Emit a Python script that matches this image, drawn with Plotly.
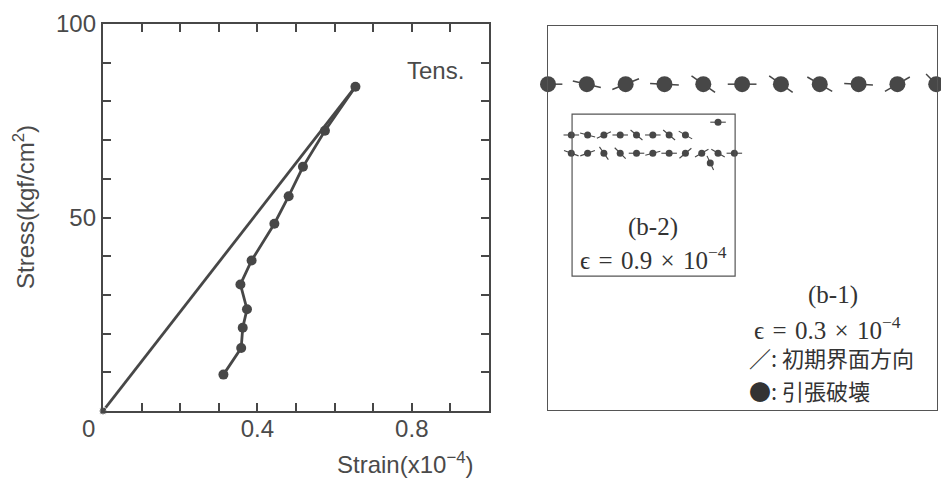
import numpy as np
import plotly.graph_objects as go

# ---------------- data: left panel (stress-strain, tension) ----------------
strain_curve = [0.312, 0.358, 0.362, 0.373, 0.356, 0.385, 0.444, 0.481, 0.518, 0.575, 0.654]
stress_curve = [9.4, 16.3, 21.5, 26.3, 32.7, 38.9, 48.4, 55.5, 63.1, 72.4, 83.8]
strain_line = [0.0, 0.654]
stress_line = [0.0, 83.8]
x_ticks = [0.4, 0.8]
x_ticklabels = ["0.4", "0.8"]
y_ticks = [50, 100]
y_ticklabels = ["50", "100"]

# ---------------- data: right panel (crack pattern) ----------------
# (b-1) large dots: position index and initial interface angle (deg)
b1_pos = [0, 1, 2, 3, 4, 5, 6, 7, 8, 9, 10]
b1_row = [8.4] * 11
b1_angle = [0, -13, 22, -3, -35, 0, -35, -30, -3, 30, -45]
# (b-2) small dots
b2_x = [0.6, 1.02, 1.44, 1.86, 2.28, 2.70, 3.12, 3.54,
        0.6, 1.02, 1.44, 1.86, 2.28, 2.70, 3.12, 3.54, 3.96, 4.38, 4.80,
        4.38, 4.18]
b2_y = [7.09] * 8 + [6.62] * 11 + [7.42, 6.37]
b2_angle = [0, -15, 25, 0, -40, 0, -40, -30,
            -20, 20, -55, -45, 0, 15, 0, 40, 30, -30, 0,
            0, -65]
b2_box = [0.62, 4.82, 3.45, 7.63]

INK = "#474747"
W, H = 941, 481


def fx(px):   # reference pixel x -> paper fraction
    return px / W


def fy(py):   # reference pixel y -> paper fraction
    return 1 - py / H


def segments(xs, ys, angs, half):
    sx, sy = [], []
    for x, y, a in zip(xs, ys, angs):
        r = np.deg2rad(a)
        dx, dy = half * np.cos(r), half * np.sin(r)
        sx += [x - dx, x + dx, None]
        sy += [y - dy, y + dy, None]
    return sx, sy


fig = go.Figure()

# left panel
fig.add_trace(go.Scatter(x=strain_line, y=stress_line, mode="lines+markers",
                         line=dict(color=INK, width=2.8),
                         marker=dict(size=[8, 0], color=INK),
                         cliponaxis=False, showlegend=False))
fig.add_trace(go.Scatter(x=strain_curve, y=stress_curve, mode="lines+markers",
                         line=dict(color=INK, width=2.8),
                         marker=dict(size=10, color=INK),
                         cliponaxis=False, showlegend=False))

# right panel segments + dots
sx, sy = segments(b1_pos, b1_row, b1_angle, 0.37)
fig.add_trace(go.Scatter(x=sx, y=sy, mode="lines", xaxis="x2", yaxis="y2",
                         line=dict(color=INK, width=1.5), cliponaxis=False,
                         showlegend=False))
fig.add_trace(go.Scatter(x=b1_pos, y=b1_row, mode="markers", xaxis="x2", yaxis="y2",
                         marker=dict(size=16, color=INK), cliponaxis=False,
                         showlegend=False))
sx, sy = segments(b2_x, b2_y, b2_angle, 0.2)
fig.add_trace(go.Scatter(x=sx, y=sy, mode="lines", xaxis="x2", yaxis="y2",
                         line=dict(color=INK, width=1.1), cliponaxis=False,
                         showlegend=False))
fig.add_trace(go.Scatter(x=b2_x, y=b2_y, mode="markers", xaxis="x2", yaxis="y2",
                         marker=dict(size=7, color=INK), cliponaxis=False,
                         showlegend=False))

fig.add_shape(type="rect", xref="x2", yref="y2",
              x0=b2_box[0], x1=b2_box[1], y0=b2_box[2], y1=b2_box[3],
              line=dict(color="#555", width=1.2))

tick_font = dict(family="Liberation Sans, Arial, sans-serif", size=24, color="#4a4a4a")
axis_common = dict(showgrid=False, zeroline=False, showline=True, linecolor=INK,
                   linewidth=2.4, mirror="ticks", ticks="inside", ticklen=8,
                   tickwidth=2.2, tickcolor=INK, tickfont=tick_font)

fig.update_layout(
    width=W, height=H, margin=dict(l=0, r=0, t=0, b=0),
    paper_bgcolor="white", plot_bgcolor="white",
    xaxis=dict(domain=[fx(103), fx(489)], range=[0, 1.0],
               tickvals=x_ticks, ticktext=x_ticklabels, ticklabelstandoff=-5,
               minor=dict(dtick=0.1, tick0=0, ticks="inside", ticklen=8,
                          tickwidth=2.2, tickcolor=INK),
               automargin=False, **axis_common),
    yaxis=dict(domain=[fy(411), fy(24)], range=[0, 100],
               tickvals=y_ticks, ticktext=y_ticklabels,
               minor=dict(dtick=10, tick0=0, ticks="inside", ticklen=8,
                          tickwidth=2.2, tickcolor=INK),
               automargin=False, **axis_common),
    xaxis2=dict(domain=[fx(548), fx(937)], range=[0, 10.02], anchor="y2",
                showgrid=False, zeroline=False, showticklabels=False, ticks="",
                showline=True, mirror=True, linecolor="#555", linewidth=1.4),
    yaxis2=dict(domain=[fy(410), fy(26)], range=[0, 9.9], anchor="x2",
                showgrid=False, zeroline=False, showticklabels=False, ticks="",
                showline=True, mirror=True, linecolor="#555", linewidth=1.4),
)

sans = dict(family="Liberation Sans, Arial, sans-serif", size=24, color="#4a4a4a")
serif = dict(family="Liberation Serif, DejaVu Serif, serif", size=25, color="#333333")
cjk = dict(family="Noto Sans CJK JP, Noto Sans CJK SC, sans-serif", size=22, color="#333333")
sp = "\u2004"

ann = [
    dict(text="0", x=0, y=0, xref="x", yref="y", xshift=-15, yshift=-17,
         showarrow=False, font=dict(tick_font)),
    dict(text="Tens.", x=0.94, y=88, xref="x", yref="y", xanchor="right",
         yanchor="middle", showarrow=False, font=sans),
    dict(text="Stress(kgf/cm<sup>2</sup>)", x=fx(24), y=fy(207),
         xref="paper", yref="paper", xanchor="center", yanchor="middle",
         textangle=-90, showarrow=False, font=sans),
    dict(text="Strain(x10<sup>−4</sup>)", x=fx(405), y=fy(463),
         xref="paper", yref="paper", xanchor="center", yanchor="middle",
         showarrow=False, font=sans),
    dict(text="(b-2)", x=2.71, y=4.72, xref="x2", yref="y2", showarrow=False, font=serif),
    dict(text=f"ϵ{sp}={sp}0.9{sp}×{sp}10<sup>−4</sup>", x=2.71, y=3.92, xref="x2", yref="y2",
         showarrow=False, font=serif),
    dict(text="(b-1)", x=7.35, y=2.96, xref="x2", yref="y2", showarrow=False, font=serif),
    dict(text=f"ϵ{sp}={sp}0.3{sp}×{sp}10<sup>−4</sup>", x=7.19, y=2.11, xref="x2", yref="y2",
         showarrow=False, font=serif),
    dict(text="／: 初期界面方向", x=5.12, y=1.37, xref="x2", yref="y2", xanchor="left",
         showarrow=False, font=cjk),
    dict(text="●: 引張破壊", x=5.12, y=0.52, xref="x2", yref="y2", xanchor="left",
         showarrow=False, font=cjk),
]
fig.update_layout(annotations=ann)

fig.write_html("out.html", config=dict(displayModeBar=False),
               post_script="document.body.style.margin='0';"
                           "document.body.style.overflow='hidden';")
